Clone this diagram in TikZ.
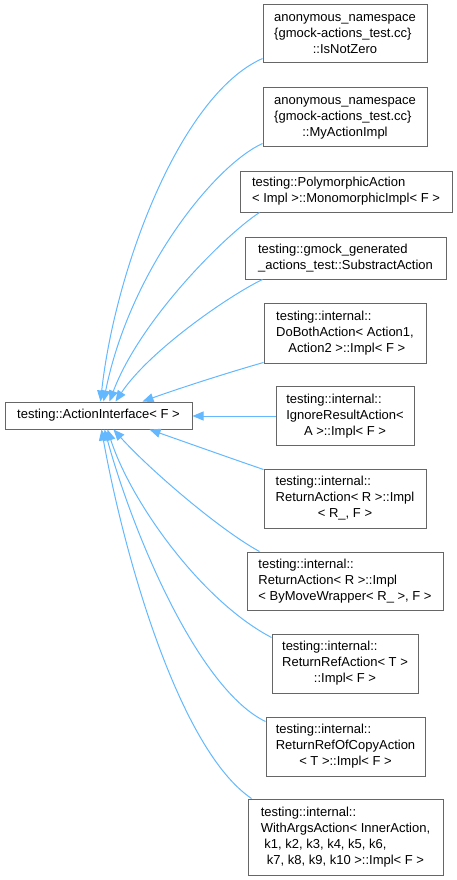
\documentclass[tikz,border=0pt]{standalone}
\usepackage{fontspec}
\setmainfont{Liberation Sans}
\usetikzlibrary{arrows.meta}
\definecolor{edgec}{HTML}{63B8FF}
\definecolor{boxc}{HTML}{666666}
\newcommand\lastc[1]{\multicolumn{1}{@{}c@{}}{#1}}
\newcommand\cltext[1]{\begin{tabular}{@{}l@{}}#1\end{tabular}}
\tikzset{
  cls/.style={draw=boxc, fill=white, line width=1pt, inner sep=0pt,
    font=\fontsize{13}{16}\selectfont, align=center},
  inh/.style={draw=edgec, line width=1pt, -{Triangle[length=11pt,width=9pt]}}
}
\begin{document}
\begin{tikzpicture}[x=1pt,y=-1pt]
\useasboundingbox (0,0) rectangle (456,880);
\node[cls, minimum width=187pt, minimum height=27pt] (b) at (98.5,415.5) {testing::ActionInterface< F >};

\node[cls, minimum width=164pt, minimum height=58pt] (n1) at (345,34)
  {\cltext{anonymous\_namespace\\ \{gmock-actions\_test.cc\}\\ \lastc{::IsNotZero}}};
\node[cls, minimum width=164pt, minimum height=58pt] (n2) at (345,117)
  {\cltext{anonymous\_namespace\\ \{gmock-actions\_test.cc\}\\ \lastc{::MyActionImpl}}};
\node[cls, minimum width=212pt, minimum height=41pt] (n3) at (346,191.5)
  {\cltext{testing::PolymorphicAction\\ \lastc{< Impl >::MonomorphicImpl< F >}}};
\node[cls, minimum width=201pt, minimum height=42pt] (n4) at (345.5,258)
  {\cltext{testing::gmock\_generated\\ \lastc{\_actions\_test::SubstractAction}}};
\node[cls, minimum width=162pt, minimum height=60pt] (n5) at (345,333)
  {\cltext{testing::internal::\\ DoBothAction< Action1,\\ \lastc{\ Action2 >::Impl< F >}}};
\node[cls, minimum width=138pt, minimum height=59pt] (n6) at (345,416)
  {\cltext{testing::internal::\\ IgnoreResultAction<\\ \lastc{A >::Impl< F >}}};
\node[cls, minimum width=162pt, minimum height=59pt] (n7) at (345,498.5)
  {\cltext{testing::internal::\\ ReturnAction< R >::Impl\\ \lastc{< R\_, F >}}};
\node[cls, minimum width=196pt, minimum height=58pt] (n8) at (345,581)
  {\cltext{testing::internal::\\ ReturnAction< R >::Impl\\ \lastc{< ByMoveWrapper< R\_ >, F >}}};
\node[cls, minimum width=146pt, minimum height=59pt] (n9) at (345,663.5)
  {\cltext{testing::internal::\\ ReturnRefAction< T >\\ \lastc{::Impl< F >}}};
\node[cls, minimum width=159pt, minimum height=59pt] (n10) at (345.5,746.5)
  {\cltext{testing::internal::\\ ReturnRefOfCopyAction\\ \lastc{< T >::Impl< F >}}};
\node[cls, minimum width=195pt, minimum height=76pt] (n11) at (345.5,837)
  {\cltext{testing::internal::\\ WithArgsAction< InnerAction,\\ \ k1, k2, k3, k4, k5, k6,\\ \lastc{k7, k8, k9, k10 >::Impl< F >}}};

% upper edges
\draw[inh] ([yshift=5pt]n1.south west) .. controls (180,95) and (115,270) .. ([xshift=96pt]b.north west);
\draw[inh] ([yshift=3pt]n2.south west) .. controls (215,165) and (130,270) .. ([xshift=99pt]b.north west);
\draw[inh] ([xshift=20pt]n3.south west) .. controls (225,235) and (140,320) .. ([xshift=105pt]b.north west);
\draw[inh] ([xshift=18pt]n4.south west) .. controls (230,295) and (150,350) .. ([xshift=111pt]b.north west);
\draw[inh] ([yshift=1pt]n5.south west) .. controls (230,372) and (180,388) .. ([xshift=138pt]b.north west);
\draw[inh] (n6.west) -- (n6.west -| b.east);
% lower edges
\draw[inh] ([yshift=-1pt]n7.north west) .. controls (230,458) and (185,442) .. ([xshift=145pt]b.south west);
\draw[inh] ([xshift=13pt]n8.north west) .. controls (220,530) and (150,470) .. ([xshift=109pt]b.south west);
\draw[inh] ([yshift=-4pt]n9.north west) .. controls (200,600) and (130,500) .. ([xshift=103pt]b.south west);
\draw[inh] ([yshift=-5pt]n10.north west) .. controls (200,690) and (135,540) .. ([xshift=100pt]b.south west);
\draw[inh] ([xshift=4pt]n11.north west) .. controls (180,750) and (125,560) .. ([xshift=97pt]b.south west);
\end{tikzpicture}
\end{document}
